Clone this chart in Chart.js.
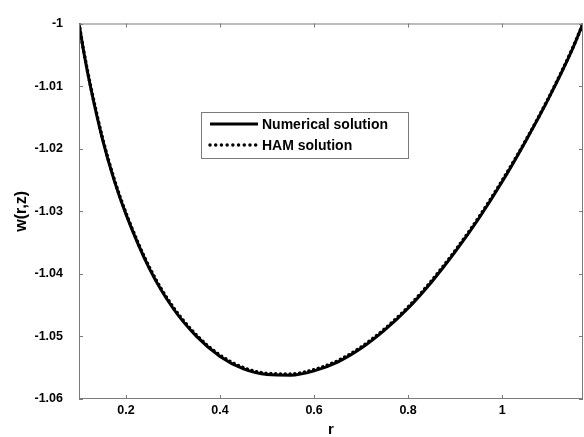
<!DOCTYPE html>
<html>
<head>
<meta charset="utf-8">
<script src="https://cdn.jsdelivr.net/npm/chart.js@4"></script>
<style>
  html, body { margin: 0; padding: 0; background: #fff; }
  #wrap { width: 584px; height: 437px; }
</style>
</head>
<body>
<div id="wrap"><canvas id="chart" width="584" height="437"></canvas></div>
<script>
// radial position r and deflection w(r,z)
const r = [0.10, 0.11, 0.125, 0.15, 0.175, 0.20, 0.25, 0.30, 0.35, 0.40, 0.45, 0.50, 0.55,
           0.60, 0.65, 0.70, 0.75, 0.80, 0.85, 0.90, 0.95, 1.00, 1.05, 1.10, 1.15, 1.172];
const numericalW = [-1.0000, -1.0045, -1.0103, -1.0185, -1.0251, -1.0305, -1.0392, -1.0455,
                    -1.0500, -1.0532, -1.0552, -1.0561, -1.0562, -1.0555, -1.0541, -1.0519,
                    -1.0490, -1.0455, -1.0413, -1.0365, -1.0312, -1.0253, -1.0188, -1.0118,
                    -1.0040, -1.0000];
const hamW = [-1.0000, -1.0044, -1.0101, -1.0183, -1.0249, -1.0303, -1.0390, -1.0453,
              -1.0498, -1.0530, -1.0550, -1.0559, -1.0560, -1.0553, -1.0539, -1.0517,
              -1.0488, -1.0453, -1.0411, -1.0363, -1.0310, -1.0251, -1.0187, -1.0117,
              -1.0039, -1.0000];

const xTicks = [0.2, 0.4, 0.6, 0.8, 1];
const yTicks = [-1.06, -1.05, -1.04, -1.03, -1.02, -1.01, -1];

const axisGray = '#7a7a7a';
const FONT = 'Liberation Sans, Arial, Helvetica, sans-serif';

function pts(ys) {
  return r.map((x, i) => ({ x, y: ys[i] }));
}

// box round the plot with ticks pointing inward on every side
const frame = {
  id: 'frame',
  afterDraw(chart) {
    const { ctx, chartArea: a, scales: { x, y } } = chart;
    const len = 4;
    ctx.save();
    ctx.strokeStyle = axisGray;
    ctx.lineWidth = 1;
    ctx.strokeRect(a.left + 0.5, a.top + 0.5, a.right - a.left - 1, a.bottom - a.top - 1);
    ctx.beginPath();
    xTicks.forEach(v => {
      const px = Math.round(x.getPixelForValue(v)) + 0.5;
      ctx.moveTo(px, a.bottom); ctx.lineTo(px, a.bottom - len);
      ctx.moveTo(px, a.top);    ctx.lineTo(px, a.top + len);
    });
    yTicks.forEach(v => {
      const py = Math.round(y.getPixelForValue(v)) + 0.5;
      ctx.moveTo(a.left, py);  ctx.lineTo(a.left + len, py);
      ctx.moveTo(a.right, py); ctx.lineTo(a.right - len, py);
    });
    ctx.stroke();
    ctx.restore();
  }
};

// legend box inside the plot
const boxLegend = {
  id: 'boxLegend',
  afterDraw(chart) {
    const { ctx } = chart;
    const bx = 201, by = 112, bw = 207, bh = 46;
    ctx.save();
    ctx.fillStyle = '#fff';
    ctx.fillRect(bx, by, bw, bh);
    ctx.strokeStyle = axisGray;
    ctx.lineWidth = 1;
    ctx.strokeRect(bx + 0.5, by + 0.5, bw, bh);
    chart.data.datasets.forEach((ds, i) => {
      const yy = by + 12 + i * 21;
      ctx.beginPath();
      ctx.strokeStyle = ds.borderColor;
      ctx.lineWidth = ds.borderWidth;
      ctx.lineCap = ds.borderCapStyle || 'butt';
      ctx.setLineDash(ds.legendDash || ds.borderDash || []);
      ctx.moveTo(bx + 9, yy);
      ctx.lineTo(bx + 57, yy);
      ctx.stroke();
      ctx.setLineDash([]);
      ctx.fillStyle = '#000';
      ctx.font = 'bold 14px ' + FONT;
      ctx.textBaseline = 'middle';
      ctx.fillText(ds.label, bx + 61, yy + 1);
    });
    ctx.restore();
  }
};

new Chart(document.getElementById('chart'), {
  type: 'line',
  data: {
    datasets: [
      {
        label: 'Numerical solution',
        data: pts(numericalW),
        borderColor: '#000',
        borderWidth: 3,
        pointRadius: 0,
        cubicInterpolationMode: 'monotone'
      },
      {
        label: 'HAM solution',
        data: pts(hamW),
        borderColor: '#000',
        borderWidth: 3.5,
        borderDash: [0.01, 4.8],
        legendDash: [0.01, 5.7],
        borderCapStyle: 'round',
        pointRadius: 0,
        cubicInterpolationMode: 'monotone'
      }
    ]
  },
  options: {
    responsive: false,
    animation: false,
    layout: { padding: { top: 15, right: 1, left: 0, bottom: 0 } },
    plugins: { legend: { display: false }, tooltip: { enabled: false } },
    scales: {
      x: {
        type: 'linear',
        min: 0.1,
        max: 1.172,
        afterFit: s => { s.height = 38; },
        afterBuildTicks: s => { s.ticks = xTicks.map(value => ({ value })); },
        grid: { display: false, drawTicks: false },
        border: { display: false },
        ticks: {
          padding: 4,
          color: '#000',
          font: { family: FONT, size: 12.5, weight: 'bold' },
          maxRotation: 0,
          callback: v => String(v)
        },
        title: {
          display: true,
          text: 'r',
          color: '#000',
          font: { family: FONT, size: 15, weight: 'bold', lineHeight: 1 },
          padding: { top: 0, bottom: 0 }
        }
      },
      y: {
        min: -1.06,
        max: -1,
        afterFit: s => { s.width = 79; },
        afterBuildTicks: s => { s.ticks = yTicks.map(value => ({ value })); },
        grid: { display: false, drawTicks: false },
        border: { display: false },
        ticks: {
          padding: 16,
          color: '#000',
          font: { family: FONT, size: 12.5, weight: 'bold' },
          callback: v => String(+v.toFixed(2))
        },
        title: {
          display: true,
          text: 'w(r,z)',
          color: '#000',
          font: { family: FONT, size: 16, weight: 'bold', lineHeight: 1 },
          padding: { top: 14, bottom: 0 }
        }
      }
    }
  },
  plugins: [frame, boxLegend]
});
</script>
</body>
</html>
